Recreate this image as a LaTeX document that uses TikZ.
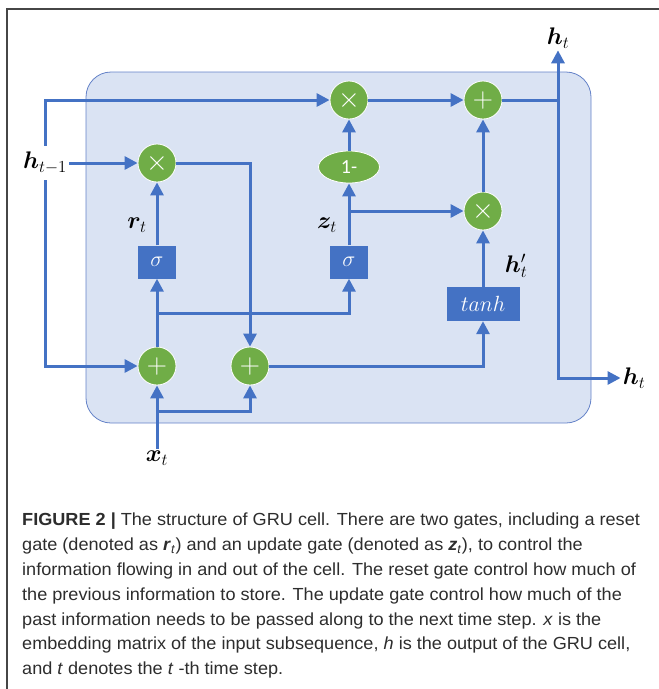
\RequirePackage{fix-cm}
\documentclass[tikz,border=0pt]{standalone}
\usepackage{amsmath,amssymb,bm}
\usepackage{fontspec}
\newfontfamily\capfont{Liberation Sans}[FakeStretch=1.035]
\newfontfamily\calfont{Carlito}
\usepackage{xcolor}
\definecolor{gblue}{RGB}{68,114,196}
\definecolor{ggreen}{RGB}{112,173,71}
\definecolor{cellbg}{RGB}{218,227,243}
\definecolor{cellline}{RGB}{100,130,200}
\definecolor{framegray}{RGB}{70,70,70}
\definecolor{capgray}{RGB}{45,45,45}
\usetikzlibrary{arrows.meta,positioning,shapes.geometric,calc}
\tikzset{
  op/.style={circle,fill=ggreen,draw=white,line width=0.8pt,minimum size=38pt,%
    inner sep=0pt,text=white,font=\fontsize{28}{28}\selectfont},
  onem/.style={ellipse,fill=ggreen,draw=white,line width=0.8pt,minimum width=61pt,%
    minimum height=32pt,inner sep=0pt,text=white,font=\calfont\fontsize{20}{20}\selectfont},
  gatebox/.style={rectangle,fill=gblue,minimum width=38pt,minimum height=33pt,%
    inner sep=0pt,text=white,font=\fontsize{22}{22}\selectfont},
  lbl/.style={inner sep=2pt,font=\fontsize{24}{26}\selectfont},
  cell/.style={draw=cellline,fill=cellbg,line width=0.8pt,rounded corners=25pt},
  flow/.style={-{Triangle[length=13pt,width=13pt]},line width=3pt,draw=gblue},
  caption/.style={inner sep=0pt,align=left,text=capgray,%
    font=\capfont\fontsize{17.5}{24.8}\selectfont},
}
\begin{document}
\begin{tikzpicture}[x=1pt,y=-1pt]
\useasboundingbox (0,0) rectangle (659,689);
\draw[framegray,line width=1.2pt] (7,689) -- (7,9) -- (659,9);
\draw[cell] (86,72) rectangle (591,423);
\node[op] (mulh) at (349,100) {$\times$};
\node[op] (addh) at (483,100) {$+$};
\node[onem] (onem) at (349,167) {1-};
\node[op] (mulz) at (483,211) {$\times$};
\node[op] (mulr) at (157,163) {$\times$};
\node[gatebox] (sigr) at (157,262) {$\sigma$};
\node[gatebox] (sigz) at (349,262) {$\sigma$};
\node[gatebox,minimum width=73pt,minimum height=34pt] (tanh) at (483,304) {$tanh$};
\node[op] (addx) at (157,366) {$+$};
\node[op] (addc) at (250,366) {$+$};
\node[lbl,inner ysep=6pt] (hprev) at (45,163) {$\bm{h}_{t-1}$};
\node[lbl] (htop) at (558,38) {$\bm{h}_t$};
\node[lbl] (hright) at (634,378) {$\bm{h}_t$};
\node[lbl] (xin) at (157,458) {$\bm{x}_t$};
\node[lbl] (rlab) at (137,225) {$\bm{r}_t$};
\node[lbl] (zlab) at (327,225) {$\bm{z}_t$};
\node[lbl] (hplab) at (516,266) {$\bm{h}'_t$};
\coordinate (rbr) at (157,313);
\coordinate (xbr) at (157,411);
\draw[flow] (hprev) |- (mulh);
\draw[flow] (hprev) |- (addx);
\draw[flow] (hprev) -- (mulr);
\draw[flow] (mulh) -- (addh);
\draw[flow] (addh) -| (htop);
\draw[flow] (addh.east -| htop) |- (hright);
\draw[flow] (onem) -- (mulh);
\draw[flow] (sigz) -- (onem);
\draw[flow] (sigz.north |- mulz) -- (mulz);
\draw[flow] (mulz) -- (addh);
\draw[flow] (tanh) -- (mulz);
\draw[flow] (sigr) -- (mulr);
\draw[flow] (mulr) -| (addc);
\draw[flow] (addx) -- (sigr);
\draw[flow] (rbr) -| (sigz);
\draw[flow] (addc) -| (tanh);
\draw[flow] (xin) -- (addx);
\draw[flow] (xbr) -| (addc);
\node[caption,anchor=north west] (cap) at (22,513) {%
\textbf{FIGURE 2 |} The structure of GRU cell. There are two gates, including a reset\\
gate (denoted as \textbf{\textit{r}}\textsubscript{\textit{t}}) and an update gate (denoted as \textbf{\textit{z}}\textsubscript{\textit{t}}), to control the\\
information flowing in and out of the cell. The reset gate control how much of\\
the previous information to store. The update gate control how much of the\\
past information needs to be passed along to the next time step. \textit{x} is the\\
embedding matrix of the input subsequence, \textit{h} is the output of the GRU cell,\\
and \textit{t} denotes the \textit{t} -th time step.};
\end{tikzpicture}
\end{document}
